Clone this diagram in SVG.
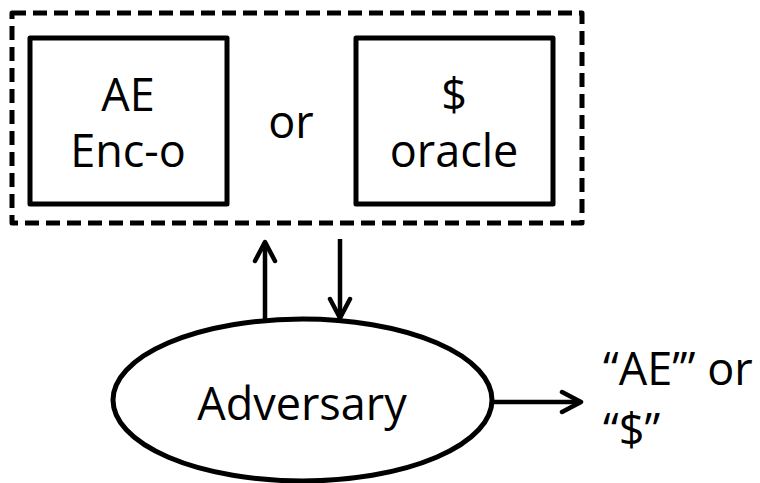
<svg xmlns="http://www.w3.org/2000/svg" width="760" height="483" viewBox="0 0 760 483">
  <defs>
    <!-- open chevron arrowhead, sized in user units -->
    <marker id="arrow" viewBox="0 0 26 26" refX="22" refY="13" markerWidth="26" markerHeight="26" markerUnits="userSpaceOnUse" orient="auto">
      <path d="M3,3 L22,13 L3,23" fill="none" stroke="#000" stroke-width="4.5" stroke-linecap="round" stroke-linejoin="round"/>
    </marker>
    <style>
      .box { fill: #fff; stroke: #000; stroke-width: 5; stroke-linejoin: round; }
      .frame { fill: none; stroke: #000; stroke-width: 5; stroke-dasharray: 14 7; stroke-linejoin: round; }
      .label { font-family: "Open Sans", "Noto Sans", sans-serif; font-size: 45px; fill: #000; text-anchor: middle; }
      .conn { stroke: #000; stroke-width: 4.5; fill: none; }
    </style>
  </defs>
  <rect width="760" height="483" fill="#fff"/>

  <g id="oracle-frame">
    <rect class="frame" x="12" y="13" width="570" height="210"/>
  </g>

  <g id="ae-enc">
    <rect class="box" x="30" y="38" width="197" height="166"/>
    <text class="label" x="128" y="111">AE</text>
    <text class="label" x="128" y="167">Enc-o</text>
  </g>

  <g id="or-label">
    <text class="label" x="291" y="138">or</text>
  </g>

  <g id="random-oracle">
    <rect class="box" x="356" y="38" width="197" height="166"/>
    <text class="label" x="454" y="111">$</text>
    <text class="label" x="454" y="167">oracle</text>
  </g>

  <g id="adversary">
    <ellipse class="box" cx="302.5" cy="400" rx="189.5" ry="81"/>
    <text class="label" x="302" y="420">Adversary</text>
  </g>

  <g id="output">
    <text class="label" x="603" y="385" style="text-anchor:start">“AE’” or</text>
    <text class="label" x="603" y="446" style="text-anchor:start">“$”</text>
  </g>

  <g id="connectors">
    <line class="conn" x1="265" y1="319" x2="265" y2="242" marker-end="url(#arrow)"/>
    <line class="conn" x1="340" y1="239" x2="340" y2="318" marker-end="url(#arrow)"/>
    <line class="conn" x1="492" y1="402" x2="581" y2="402" marker-end="url(#arrow)"/>
  </g>
</svg>
